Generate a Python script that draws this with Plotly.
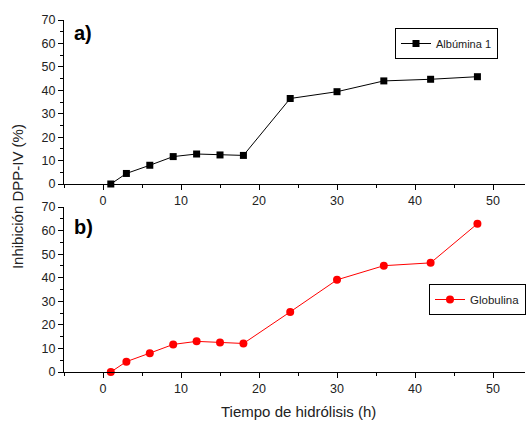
import plotly.graph_objects as go

tiempo = [1, 3, 6, 9, 12, 15, 18, 24, 30, 36, 42, 48]
albumina = [0, 4.5, 8.0, 11.7, 12.8, 12.4, 12.2, 36.5, 39.4, 44.0, 44.7, 45.8]
globulina = [0, 4.4, 8.0, 11.7, 13.0, 12.5, 12.1, 25.5, 39.1, 45.1, 46.3, 62.9]
x_ticks = [0, 10, 20, 30, 40, 50]
y_ticks = [0, 10, 20, 30, 40, 50, 60, 70]

FONT = "Liberation Sans, Arial, sans-serif"

W, H = 526, 421
ML, MR, MT, MB = 64, 0, 20, 49
plot_w = W - ML - MR
plot_h = H - MT - MB

fig = go.Figure()
fig.add_trace(go.Scatter(
    x=tiempo, y=albumina, mode="lines+markers", name="Albúmina 1",
    line=dict(color="black", width=1),
    marker=dict(symbol="square", size=7, color="black"),
    xaxis="x", yaxis="y", legend="legend", cliponaxis=False))
fig.add_trace(go.Scatter(
    x=tiempo, y=globulina, mode="lines+markers", name="Globulina",
    line=dict(color="red", width=1),
    marker=dict(symbol="circle", size=8, color="red"),
    xaxis="x2", yaxis="y2", legend="legend2", cliponaxis=False))

axis_common = dict(
    showline=True, linecolor="black", linewidth=1.2, mirror=False,
    ticks="outside", ticklen=5, tickwidth=1.2, tickcolor="black",
    showgrid=False, zeroline=False,
    tickfont=dict(family=FONT, size=12.5, color="#222"),
)
minor = dict(dtick=5, tick0=0, ticks="outside", ticklen=3, tickwidth=1, tickcolor="black")

def px_x(px):
    return (px - ML) / plot_w

def px_y(py):
    return (H - MB - py) / plot_h

fig.update_layout(
    width=W, height=H,
    margin=dict(l=ML, r=MR, t=MT, b=MB),
    paper_bgcolor="white", plot_bgcolor="white",
    font=dict(family=FONT, color="#222"),
    showlegend=True,
    xaxis=dict(range=[-5, 54.1], tickvals=x_ticks, anchor="y", minor=minor, **axis_common),
    yaxis=dict(range=[0, 70], tickvals=y_ticks, domain=[px_y(184), 1], anchor="x", minor=minor, **axis_common),
    xaxis2=dict(range=[-5, 54.1], tickvals=x_ticks, anchor="y2", minor=minor, **axis_common),
    yaxis2=dict(range=[0, 70], tickvals=y_ticks, domain=[0, px_y(207)], anchor="x2", minor=minor, **axis_common),
    legend=dict(x=px_x(395), y=px_y(28), xanchor="left", yanchor="top",
                bordercolor="black", borderwidth=1, bgcolor="white",
                font=dict(family=FONT, size=11, color="#222"),
                itemwidth=30, tracegroupgap=0),
    legend2=dict(x=px_x(430), y=px_y(284), xanchor="left", yanchor="top",
                 bordercolor="black", borderwidth=1, bgcolor="white",
                 font=dict(family=FONT, size=11.5, color="#222"),
                 itemwidth=30, tracegroupgap=0),
    annotations=[
        dict(text="<b>a)</b>", x=px_x(72), y=px_y(20), xref="paper", yref="paper",
             xanchor="left", yanchor="top", showarrow=False,
             font=dict(family=FONT, size=20, color="black")),
        dict(text="<b>b)</b>", x=px_x(72), y=px_y(214), xref="paper", yref="paper",
             xanchor="left", yanchor="top", showarrow=False,
             font=dict(family=FONT, size=20, color="black")),
        dict(text="Inhibición DPP-IV (%)", x=px_x(17), y=px_y(197), xref="paper", yref="paper",
             xanchor="center", yanchor="middle", showarrow=False, textangle=-90,
             font=dict(family=FONT, size=15, color="#222")),
        dict(text="Tiempo de hidrólisis (h)", x=px_x(299), y=px_y(412), xref="paper", yref="paper",
             xanchor="center", yanchor="middle", showarrow=False,
             font=dict(family=FONT, size=15, color="#222")),
    ],
)

fig.write_html(
    "out.html",
    config={"displayModeBar": False},
    post_script="document.body.style.margin='0';document.body.style.overflow='hidden';",
)
